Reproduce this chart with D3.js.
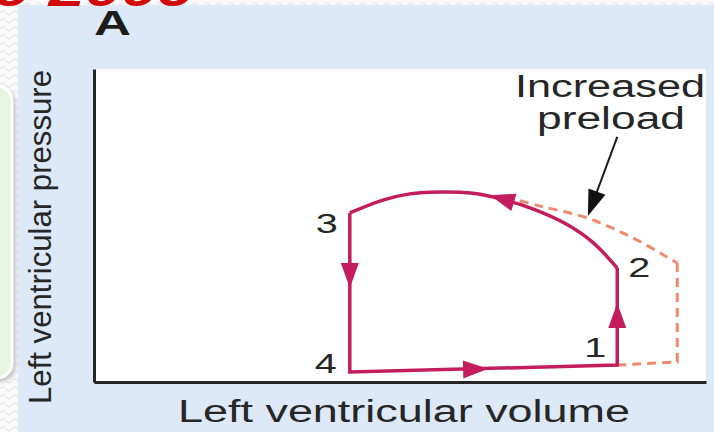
<!DOCTYPE html>
<html>
<head>
<meta charset="utf-8">
<script src="https://cdn.jsdelivr.net/npm/d3@7"></script>
<style>
  html, body { margin: 0; padding: 0; background: #ffffff; }
  svg { display: block; }
  text { font-family: "Liberation Sans", Arial, Helvetica, sans-serif; }
</style>
</head>
<body>
<svg id="chart" width="714" height="432"></svg>
<script>
// Pressure-volume loop of the left ventricle (panel A: increased preload)

// Loop corner points (volume, pressure) in arbitrary units
const vertexNames = ["1", "2", "3", "4"];
const vertexVolume = [85.5, 85.5, 41.8, 41.8];
const vertexPressure = [5.4, 36.4, 54.0, 3.2];

// Ejection phase from point 2 back to point 3
const ejectionVolume = [85.5, 81.5, 77.3, 71.7, 66.3, 61.9, 56.5, 51.6, 47.2, 41.8];
const ejectionPressure = [36.4, 44.6, 50.3, 55.3, 58.6, 60.3, 60.7, 60.1, 58.1, 54.0];

// Larger loop with increased preload (dashed)
const preloadCurveVolume = [67.2, 72.9, 80.6, 88.1, 95.3];
const preloadCurvePressure = [59.1, 56.2, 52.4, 46.0, 38.0];
const preloadEdgeVolume = [95.3, 95.3, 85.6];
const preloadEdgePressure = [38.0, 6.4, 5.4];

// Direction arrowheads: tip point and a point behind it along the loop
const arrowTipVolume = [64.4, 85.5, 41.8, 64.7];
const arrowTipPressure = [4.2, 25.2, 30.0, 59.7];
const arrowTailVolume = [41.8, 85.5, 41.8, 71.7];
const arrowTailPressure = [3.2, 5.4, 54.0, 55.6];

// Annotation pointer for the increased-preload loop
const pointerVolume = [85.5, 80.7];
const pointerPressure = [78.3, 53.0];

const axisLabels = { x: "Left ventricular volume", y: "Left ventricular pressure" };
const panelLetter = "A";
const noteLines = ["Increased", "preload"];
const headerText = "9 2009";

const svg = d3.select("#chart");
const W = 714, H = 432;

const loopColor = "#c41d5e";
const dashColor = "#ef8a6e";
const inkColor = "#262626";

const x = d3.scaleLinear().domain([0, 100]).range([94, 706]);
const y = d3.scaleLinear().domain([0, 100]).range([382, 69]);

// page backdrop with faint wavy texture
const defs = svg.append("defs");
const pat = defs.append("pattern").attr("id", "wave").attr("patternUnits", "userSpaceOnUse")
  .attr("width", 12).attr("height", 8);
pat.append("rect").attr("width", 12).attr("height", 8).attr("fill", "#fafafa");
pat.append("path").attr("d", "M0,5 Q3,1 6,5 T12,5").attr("fill", "none")
  .attr("stroke", "#e6e6e6").attr("stroke-width", 1.2);
const shadow = defs.append("filter").attr("id", "soft").attr("x", "-50%").attr("y", "-10%")
  .attr("width", "200%").attr("height", "120%");
shadow.append("feGaussianBlur").attr("stdDeviation", 2);

svg.append("rect").attr("width", W).attr("height", H).attr("fill", "url(#wave)");

// green side box on the slide
svg.append("rect").attr("x", -30).attr("y", 88).attr("width", 46).attr("height", 294)
  .attr("rx", 16).attr("fill", "#9a9a9a").attr("opacity", 0.55).attr("filter", "url(#soft)");
svg.append("rect").attr("x", -30).attr("y", 86).attr("width", 42).attr("height", 292)
  .attr("rx", 15).attr("fill", "#e7f6df").attr("stroke", "#ffffff").attr("stroke-width", 3);

// blue figure panel
svg.append("rect").attr("x", 18).attr("y", 5).attr("width", W - 18).attr("height", H - 5)
  .attr("fill", "#dde9f6");

// red slide heading, cropped at the top edge
svg.append("text").attr("x", -6).attr("y", 6)
  .attr("font-size", 44).attr("font-weight", "bold").attr("font-style", "italic")
  .attr("fill", "#d10a0a").attr("textLength", 200).attr("lengthAdjust", "spacingAndGlyphs")
  .text(headerText);

// plot area
svg.append("rect").attr("x", x(0)).attr("y", y(100)).attr("width", x(100) - x(0))
  .attr("height", y(0) - y(100)).attr("fill", "#ffffff");

// axes (no ticks)
const xAxis = d3.axisBottom(x).tickValues([]).tickSizeOuter(0);
const yAxis = d3.axisLeft(y).tickValues([]).tickSizeOuter(0);
svg.append("g").attr("transform", `translate(0,${y(0)})`).call(xAxis)
  .select(".domain").attr("stroke", inkColor).attr("stroke-width", 3);
svg.append("g").attr("transform", `translate(${x(0)},0)`).call(yAxis)
  .select(".domain").attr("stroke", inkColor).attr("stroke-width", 3);

// axis titles
svg.append("text").attr("x", 178).attr("y", 422).attr("font-size", 31).attr("fill", inkColor)
  .attr("textLength", 452).attr("lengthAdjust", "spacingAndGlyphs").text(axisLabels.x);
svg.append("text").attr("transform", "translate(51,237) rotate(-90)")
  .attr("text-anchor", "middle").attr("font-size", 32).attr("fill", inkColor)
  .attr("textLength", 334).attr("lengthAdjust", "spacingAndGlyphs").text(axisLabels.y);

// panel letter
svg.append("text").attr("x", 94).attr("y", 35).attr("font-size", 35).attr("font-weight", "bold")
  .attr("fill", "#1c1c1c").attr("textLength", 37).attr("lengthAdjust", "spacingAndGlyphs")
  .text(panelLetter);

const line = d3.line().x(d => x(d[0])).y(d => y(d[1]));
const smooth = d3.line().x(d => x(d[0])).y(d => y(d[1])).curve(d3.curveCatmullRom.alpha(0.5));

// increased preload loop (dashed)
const preCurve = preloadCurveVolume.map((v, i) => [v, preloadCurvePressure[i]]);
const preEdge = preloadEdgeVolume.map((v, i) => [v, preloadEdgePressure[i]]);
svg.append("path").attr("d", smooth(preCurve)).attr("fill", "none").attr("stroke", dashColor)
  .attr("stroke-width", 3).attr("stroke-dasharray", "9,6");
svg.append("path").attr("d", line(preEdge)).attr("fill", "none").attr("stroke", dashColor)
  .attr("stroke-width", 3).attr("stroke-dasharray", "9,6");

// baseline loop: filling, isovolumic contraction, relaxation as straight legs
const vtx = vertexNames.map((n, i) => ({ name: n, v: vertexVolume[i], p: vertexPressure[i] }));
const byName = Object.fromEntries(vtx.map(d => [d.name, [d.v, d.p]]));
const straightLegs = [byName["3"], byName["4"], byName["1"], byName["2"]];
svg.append("path").attr("d", line(straightLegs)).attr("fill", "none").attr("stroke", loopColor)
  .attr("stroke-width", 3.5).attr("stroke-linejoin", "miter");
const ejection = ejectionVolume.map((v, i) => [v, ejectionPressure[i]]);
svg.append("path").attr("d", smooth(ejection)).attr("fill", "none").attr("stroke", loopColor)
  .attr("stroke-width", 3.5);

// arrowheads along the loop
arrowTipVolume.forEach((v, i) => {
  const tx = x(v), ty = y(arrowTipPressure[i]);
  const bx = x(arrowTailVolume[i]), by = y(arrowTailPressure[i]);
  const ang = Math.atan2(ty - by, tx - bx) * 180 / Math.PI;
  svg.append("path").attr("d", "M0,0 L-25,-9 L-25,9 Z").attr("fill", loopColor)
    .attr("transform", `translate(${tx},${ty}) rotate(${ang})`);
});

// vertex numbers
const labelOffset = { "1": [-22, -8], "2": [22, 9], "3": [-23, 20], "4": [-24, 1] };
svg.selectAll("text.vertex").data(vtx).join("text").attr("class", "vertex")
  .attr("x", d => x(d.v) + labelOffset[d.name][0] - 11)
  .attr("y", d => y(d.p) + labelOffset[d.name][1])
  .attr("font-size", 28).attr("fill", inkColor)
  .attr("textLength", 22).attr("lengthAdjust", "spacingAndGlyphs")
  .text(d => d.name);

// increased preload note and pointer
svg.append("text").attr("x", 515).attr("y", 97).attr("font-size", 31).attr("fill", inkColor)
  .attr("textLength", 190).attr("lengthAdjust", "spacingAndGlyphs").text(noteLines[0]);
svg.append("text").attr("x", 537).attr("y", 129).attr("font-size", 31).attr("fill", inkColor)
  .attr("textLength", 148).attr("lengthAdjust", "spacingAndGlyphs").text(noteLines[1]);

const p0 = [x(pointerVolume[0]), y(pointerPressure[0])];
const p1 = [x(pointerVolume[1]), y(pointerPressure[1])];
const pang = Math.atan2(p1[1] - p0[1], p1[0] - p0[0]);
const headLen = 26;
const shaftEnd = [p1[0] - Math.cos(pang) * (headLen - 4), p1[1] - Math.sin(pang) * (headLen - 4)];
svg.append("line").attr("x1", p0[0]).attr("y1", p0[1]).attr("x2", shaftEnd[0]).attr("y2", shaftEnd[1])
  .attr("stroke", "#1a1a1a").attr("stroke-width", 2);
svg.append("path").attr("d", `M0,0 L${-headLen},-9 L${-headLen},9 Z`).attr("fill", "#111")
  .attr("transform", `translate(${p1[0]},${p1[1]}) rotate(${pang * 180 / Math.PI})`);
</script>
</body>
</html>
